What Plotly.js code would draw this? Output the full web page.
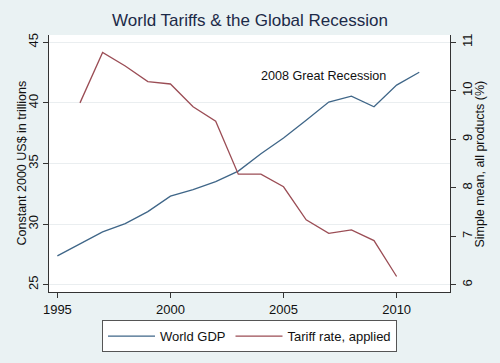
<!DOCTYPE html>
<html><head><meta charset="utf-8">
<script src="https://cdn.plot.ly/plotly-3.0.1.min.js"></script>
<style>html,body{margin:0;padding:0;background:#eaf2f3;}</style>
</head><body>
<div id="chart" style="width:500px;height:363px;"></div>
<script>
const gdpYears = [1995,1996,1997,1998,1999,2000,2001,2002,2003,2004,2005,2006,2007,2008,2009,2010,2011];
const gdpValues = [27.38,28.34,29.36,30.04,31.03,32.31,32.84,33.5,34.37,35.8,37.11,38.56,40.07,40.56,39.68,41.47,42.53];
const tariffYears = [1996,1997,1998,1999,2000,2001,2002,2003,2004,2005,2006,2007,2008,2009,2010];
const tariffValues = [9.75,10.79,10.51,10.19,10.14,9.67,9.37,8.28,8.28,8.02,7.34,7.06,7.13,6.91,6.17];
const xTicks = [1995,2000,2005,2010];
const yLeftTicks = [25,30,35,40,45];
const yRightTicks = [6,7,8,9,10,11];

const font = 'Liberation Sans, Arial, sans-serif';
const traces = [
  {x: gdpYears, y: gdpValues, type:'scatter', mode:'lines', name:'World GDP',
   line:{color:'#3f6688', width:1.3}, yaxis:'y'},
  {x: tariffYears, y: tariffValues, type:'scatter', mode:'lines', name:'Tariff rate, applied',
   line:{color:'#9b4d55', width:1.3}, yaxis:'y2'}
];
const layout = {
  width:500, height:363,
  paper_bgcolor:'#eaf2f3', plot_bgcolor:'#ffffff',
  margin:{l:49, r:50, t:35, b:70},
  font:{family:font, size:13, color:'#111'},
  title:{text:'World Tariffs & the Global Recession', x:0.5, xanchor:'center', y:0.945, yanchor:'middle',
         font:{family:font, size:17, color:'#1c2a48'}},
  xaxis:{range:[1994.63,2012.36], tickvals:xTicks, ticktext:xTicks.map(String),
         showgrid:false, zeroline:false, showline:true, linecolor:'#333', linewidth:1,
         ticks:'outside', ticklen:5, tickcolor:'#333', tickfont:{size:13}},
  yaxis:{range:[24.4,45.6], tickvals:yLeftTicks, ticktext:yLeftTicks.map(String), tickangle:-90,
         showgrid:true, gridcolor:'#eaeef0', gridwidth:1, zeroline:false,
         showline:true, linecolor:'#333', linewidth:1,
         ticks:'outside', ticklen:5, tickcolor:'#333', tickfont:{size:13}},
  yaxis2:{range:[5.85,11.15], overlaying:'y', side:'right', tickvals:yRightTicks, ticktext:yRightTicks.map(String),
          tickangle:-90, showgrid:false, zeroline:false, showline:true, linecolor:'#333', linewidth:1,
          ticks:'outside', ticklen:5, tickcolor:'#333', tickfont:{size:13}},
  legend:{orientation:'h', x:0.5, xanchor:'center', y:-0.105, yanchor:'top', itemwidth:47,
          bgcolor:'#ffffff', bordercolor:'#555', borderwidth:1, font:{size:13}},
  annotations:[
    {x:2003.9, y:42.23, xref:'x', yref:'y', text:'2008 Great Recession', showarrow:false,
     xanchor:'left', yanchor:'middle', font:{size:12.6, color:'#111'}},
    {x:-0.0698, y:0.5, xref:'paper', yref:'paper', text:'Constant 2000 US$ in trillions', showarrow:false,
     textangle:-90, xanchor:'center', yanchor:'middle', font:{size:12.5, color:'#111'}},
    {x:1.0748, y:0.5, xref:'paper', yref:'paper', text:'Simple mean, all products (%)', showarrow:false,
     textangle:-90, xanchor:'center', yanchor:'middle', font:{size:12.5, color:'#111'}}
  ],
  showlegend:true
};
Plotly.newPlot('chart', traces, layout, {displayModeBar:false, staticPlot:true});
</script>
</body></html>
